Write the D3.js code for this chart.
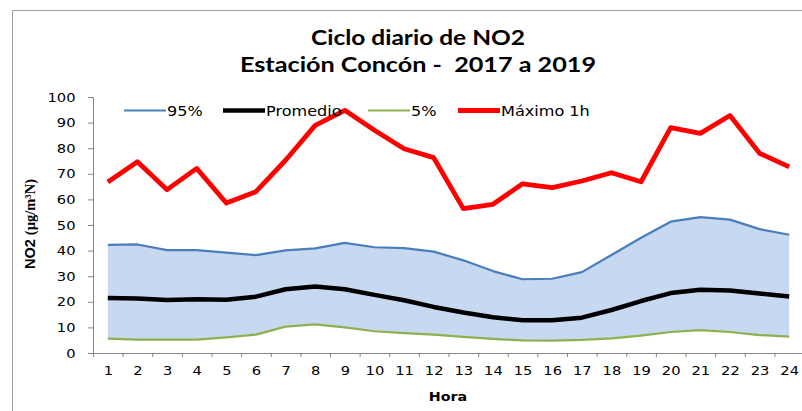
<!DOCTYPE html>
<html>
<head>
<meta charset="utf-8">
<script src="https://cdn.jsdelivr.net/npm/d3@7"></script>
<style>
  body { margin: 0; background: #fff; }
  svg { display: block; }
</style>
</head>
<body>
<svg id="chart" width="802" height="411"></svg>
<script>
// ** Data **
const hours = d3.range(1, 25);
const p95 = [42.2, 42.4, 40.2, 40.2, 39.2, 38.2, 40.1, 40.9, 43.0, 41.3, 41.0, 39.6,
             36.2, 32.0, 28.8, 29.0, 31.6, 38.3, 45.0, 51.3, 53.1, 52.1, 48.4, 46.2];
const promedio = [21.5, 21.3, 20.7, 21.0, 20.8, 22.0, 24.9, 26.0, 24.9, 22.7, 20.6, 18.0,
                  15.8, 14.0, 12.8, 12.8, 13.8, 16.8, 20.3, 23.4, 24.7, 24.4, 23.2, 22.1];
const p5 = [5.6, 5.2, 5.2, 5.2, 6.1, 7.2, 10.3, 11.2, 10.0, 8.5, 7.8, 7.2,
            6.3, 5.5, 4.9, 4.8, 5.1, 5.7, 6.8, 8.2, 8.9, 8.2, 7.0, 6.4];
const maximo = [66.8, 74.7, 63.8, 72.1, 58.6, 63.0, 75.3, 88.9, 94.8, 87.0, 79.8, 76.3,
                56.4, 58.1, 66.1, 64.6, 67.2, 70.4, 66.9, 88.0, 85.8, 92.8, 78.0, 72.7];
const yTicks = d3.range(0, 101, 10);

// ** Layout **
const plotLeft = 93, plotRight = 804, plotTop = 97, plotBottom = 353;
const axisColor = "#868686";
const tickFont = "'DejaVu Sans', Verdana, sans-serif";

const svg = d3.select("#chart");

const x = d3.scaleLinear().domain([0.5, 24.5]).range([plotLeft, plotRight]);
const y = d3.scaleLinear().domain([0, 100]).range([plotBottom, plotTop]);

// chart frame
svg.append("path")
  .attr("d", "M12.5,411 L12.5,10.5 L802,10.5")
  .attr("fill", "none")
  .attr("stroke", "#a0a0a0")
  .attr("stroke-width", 1);

// title
const titleLines = [
  { text: "Ciclo diario de NO2", y: 45, len: 214 },
  { text: "Estación Concón -  2017 a 2019", y: 72, len: 356 }
];
titleLines.forEach(function(t) {
  svg.append("text")
    .attr("x", 418)
    .attr("y", t.y)
    .attr("text-anchor", "middle")
    .attr("textLength", t.len)
    .attr("lengthAdjust", "spacingAndGlyphs")
    .style("font-family", "Lato, 'Open Sans', sans-serif")
    .style("font-weight", "bold")
    .style("font-size", "21px")
    .style("white-space", "pre")
    .text(t.text);
});

// band between 5% and 95%
const band = d3.area()
  .x(function(d, i) { return x(hours[i]); })
  .y0(function(d, i) { return y(p5[i]); })
  .y1(function(d, i) { return y(p95[i]); });

svg.append("path")
  .datum(p95)
  .attr("d", band)
  .attr("fill", "#c6d9f1");

// y axis
const yAxis = svg.append("g")
  .attr("transform", "translate(" + plotLeft + ",0)")
  .call(d3.axisLeft(y).tickValues(yTicks).tickSize(5).tickPadding(13));
yAxis.select(".domain").attr("stroke", axisColor);
yAxis.selectAll(".tick line").attr("stroke", axisColor);
yAxis.selectAll(".tick text")
  .attr("transform", "scale(1.13,1)")
  .attr("x", -15.5)
  .style("font-family", tickFont)
  .style("font-size", "13px")
  .attr("fill", "#000");

// x axis: ticks between categories
const xAxis = svg.append("g")
  .attr("transform", "translate(0," + plotBottom + ")")
  .call(d3.axisBottom(x).tickValues(d3.range(0.5, 25, 1)).tickSize(4).tickFormat(""));
xAxis.select(".domain").attr("stroke", axisColor).attr("d", "M" + plotLeft + ",0.5H802");
xAxis.selectAll(".tick line").attr("stroke", axisColor);

// x category labels
const xLabels = svg.append("g")
  .attr("transform", "translate(0," + plotBottom + ")")
  .call(d3.axisBottom(x).tickValues(hours).tickSize(0).tickPadding(13));
xLabels.select(".domain").remove();
xLabels.selectAll(".tick text")
  .attr("transform", "scale(1.13,1)")
  .style("font-family", tickFont)
  .style("font-size", "13px")
  .attr("fill", "#000");

// series lines
const series = [
  { name: "95%", values: p95, color: "#4a7ebb", width: 2.2 },
  { name: "Promedio", values: promedio, color: "#000000", width: 4.5 },
  { name: "5%", values: p5, color: "#8fb04f", width: 2.2 },
  { name: "Máximo 1h", values: maximo, color: "#ff0000", width: 4.8 }
];

const line = d3.line()
  .x(function(d, i) { return x(hours[i]); })
  .y(function(d) { return y(d); });

series.forEach(function(s) {
  svg.append("path")
    .datum(s.values)
    .attr("d", line)
    .attr("fill", "none")
    .attr("stroke", s.color)
    .attr("stroke-width", s.width)
    .attr("stroke-linejoin", "round");
});

// legend
const legendX = [124, 223, 368, 458];
const legendY = 110.5;
series.forEach(function(s, i) {
  let g = svg.append("g").attr("transform", "translate(" + legendX[i] + "," + legendY + ")");
  g.append("line")
    .attr("x1", 0).attr("x2", 42)
    .attr("y1", 0).attr("y2", 0)
    .attr("stroke", s.color)
    .attr("stroke-width", s.width);
  g.append("text")
    .attr("transform", "translate(43,5) scale(1.15,1)")
    .style("font-family", tickFont)
    .style("font-size", "14px")
    .text(s.name);
});

// y axis title
const yTitle = svg.append("text")
  .attr("transform", "translate(35,224) rotate(-90)")
  .attr("text-anchor", "middle")
  .style("font-weight", "bold")
  .style("font-size", "14.5px");
yTitle.append("tspan")
  .style("font-family", "'Liberation Sans', Arial, sans-serif")
  .text("NO2 ");
yTitle.append("tspan")
  .style("font-family", "'Liberation Serif', 'Times New Roman', serif")
  .text("(µg/m³N)");

// x axis title
svg.append("text")
  .attr("transform", "translate(448,401) scale(1.1,1)")
  .attr("text-anchor", "middle")
  .style("font-family", tickFont)
  .style("font-weight", "bold")
  .style("font-size", "13px")
  .text("Hora");
</script>
</body>
</html>
